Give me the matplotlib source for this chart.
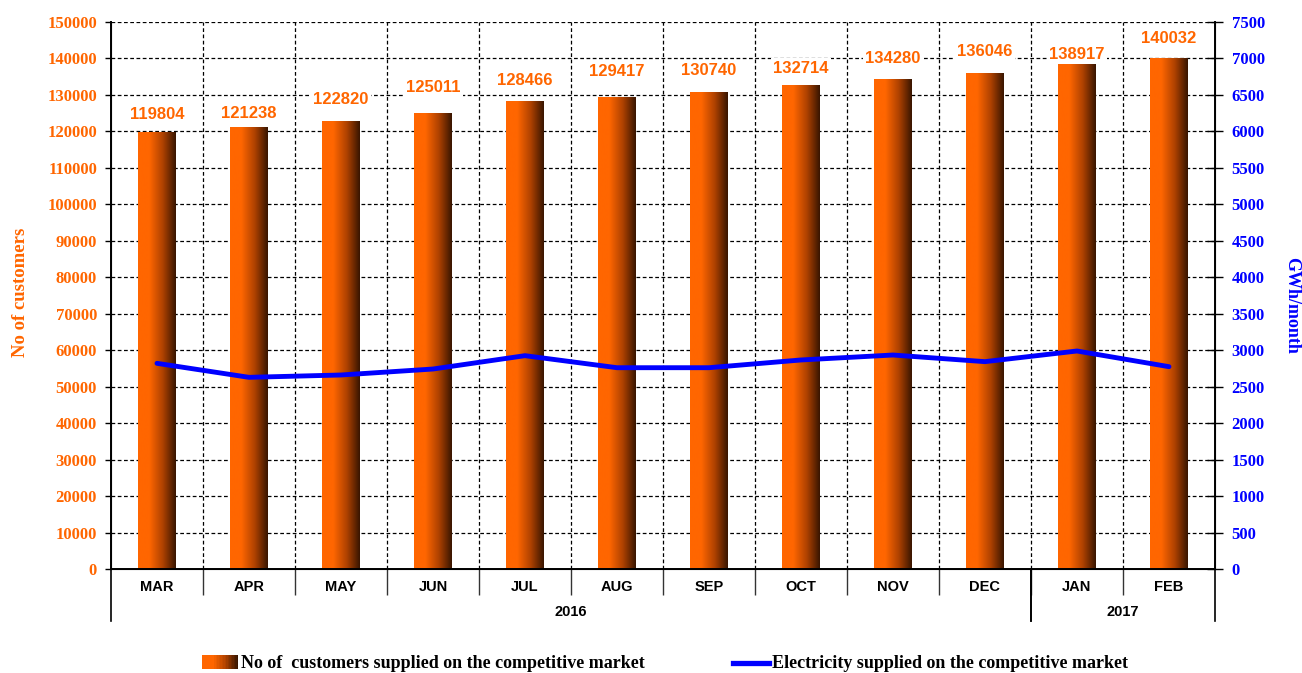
import numpy as np
import matplotlib
matplotlib.use("Agg")
import matplotlib.pyplot as plt
from matplotlib.colors import LinearSegmentedColormap
from matplotlib.patches import Rectangle
from matplotlib.lines import Line2D
from matplotlib.legend_handler import HandlerBase
from matplotlib.transforms import blended_transform_factory

# data
months = ['MAR', 'APR', 'MAY', 'JUN', 'JUL', 'AUG', 'SEP', 'OCT', 'NOV', 'DEC', 'JAN', 'FEB']
years = ['2016', '2017']
year_spans = [(0, 9), (10, 11)]
customers = [119804, 121238, 122820, 125011, 128466, 129417, 130740, 132714,
             134280, 136046, 138917, 140032]
gwh = [2820, 2628, 2660, 2742, 2925, 2760, 2760, 2866, 2934, 2843, 2989, 2774]

# label lift above each bar top (pixels), as placed in the original
label_lift = [18, 13, 22, 26, 20, 26, 22, 17, 21, 21, 8, 20]

ORANGE = '#FF6600'
BLUE = '#0000FF'
SERIF = 'Liberation Serif'
SANS = 'Liberation Sans'

bar_cmap = LinearSegmentedColormap.from_list(
    'bar', [(0.0, '#FF6600'), (0.3, '#FF6600'), (0.65, '#B04200'), (1.0, '#381500')])


class GradientHandler(HandlerBase):
    def create_artists(self, legend, orig_handle, xdescent, ydescent,
                       width, height, fontsize, trans):
        n = 24
        arts = []
        for i in range(n):
            r = Rectangle((-xdescent + i * width / n, -ydescent - 1), width / n + 0.05,
                          height + 2, facecolor=bar_cmap(i / (n - 1)), lw=0,
                          transform=trans)
            arts.append(r)
        return arts


fig = plt.figure(figsize=(13.02, 6.73), dpi=100)
ax = fig.add_axes([111 / 1302, 1 - 569 / 673, (1215 - 111) / 1302, (569 - 22) / 673])
ax2 = ax.twinx()

x = np.arange(len(months))
bars = ax.bar(x, customers, width=0.41, color='none', zorder=2)
grad = np.linspace(0, 1, 256).reshape(1, -1)
for b in bars:
    im = ax.imshow(grad, cmap=bar_cmap, aspect='auto', zorder=2,
                   extent=[b.get_x(), b.get_x() + b.get_width(), 0, b.get_height()])
    im.set_clip_path(b)

ax.set_xlim(-0.5, len(months) - 0.5)
ax.set_ylim(0, 150000)
ax.set_yticks(np.arange(0, 150001, 10000))
ax.set_xticks(x)
ax.set_xticklabels(months, fontfamily=SANS, fontweight='bold', fontsize=10.5)
ax.set_xticks(np.arange(0.5, len(months) - 1, 1), minor=True)
ax.tick_params(axis='x', which='major', length=0, pad=8)
ax.tick_params(axis='x', which='minor', length=19, width=1, color='#333333')
ax.tick_params(axis='y', length=4, width=1, labelsize=12, labelcolor=ORANGE, pad=6)
for t in ax.get_yticklabels():
    t.set_fontfamily(SERIF)
    t.set_fontweight('bold')

ax.set_axisbelow(True)
ax.grid(axis='y', color='black', linestyle=(0, (3, 2)), linewidth=0.9)
ax.grid(axis='x', which='minor', color='black', linestyle=(0, (3, 2)), linewidth=0.9)

for s in ['top']:
    ax.spines[s].set_visible(False)
    ax2.spines[s].set_visible(False)
for s in ['left', 'bottom']:
    ax.spines[s].set_linewidth(1.4)
ax2.spines['right'].set_linewidth(1.4)

ax.set_ylabel('No of customers', color=ORANGE, fontfamily=SERIF, fontweight='bold',
              fontsize=13.5, va='center')
ax.yaxis.set_label_coords(-0.0824, 0.505)

# value labels
for i, v in enumerate(customers):
    ax.annotate(str(v), xy=(x[i], v), xytext=(0, label_lift[i]), textcoords='offset pixels',
                ha='center', va='center', color=ORANGE, fontfamily=SANS,
                fontweight='bold', fontsize=12, zorder=4,
                bbox=dict(boxstyle='square,pad=0.15', fc='white', ec='none'))

# year separators and labels under the month row
tr = blended_transform_factory(ax.transData, ax.transAxes)
for start, end in year_spans:
    for xx in (start - 0.5, end + 0.5):
        ax.plot([xx, xx], [0, -52 / 547], transform=tr, color='black', lw=1.2,
                clip_on=False)
for yr, (start, end) in zip(years, year_spans):
    ax.text((start + end) / 2, -43 / 547, yr, transform=tr, ha='center', va='center',
            fontfamily=SANS, fontweight='bold', fontsize=10.5)

# electricity line on right axis
ax2.plot(x, gwh, color=BLUE, lw=3.5, solid_capstyle='round', zorder=5)
ax2.set_ylim(0, 7500)
ax2.set_yticks(np.arange(0, 7501, 500))
ax2.tick_params(axis='y', direction='inout', length=12, width=1, labelsize=12,
                labelcolor=BLUE, pad=6)
for t in ax2.get_yticklabels():
    t.set_fontfamily(SERIF)
    t.set_fontweight('bold')
ax2.set_ylabel('GWh/month', color=BLUE, fontfamily=SERIF, fontweight='bold',
               fontsize=13, rotation=270, va='center')
ax2.yaxis.set_label_coords(1.0695, 0.4826)

# legend
h_bar = Rectangle((0, 0), 1, 1)
h_line = Line2D([], [], color=BLUE, lw=3.8)
fig.legend([h_bar, h_line],
           ['No of  customers supplied on the competitive market',
            'Electricity supplied on the competitive market'],
           handler_map={Rectangle: GradientHandler()},
           loc='center', bbox_to_anchor=(665 / 1302, 1 - 664 / 673), ncol=2, frameon=False,
           prop={'family': SERIF, 'weight': 'bold', 'size': 13},
           handlelength=2.0, handletextpad=0.15, columnspacing=4.9,
           handleheight=0.55)

fig.savefig('out.png', dpi=100)
